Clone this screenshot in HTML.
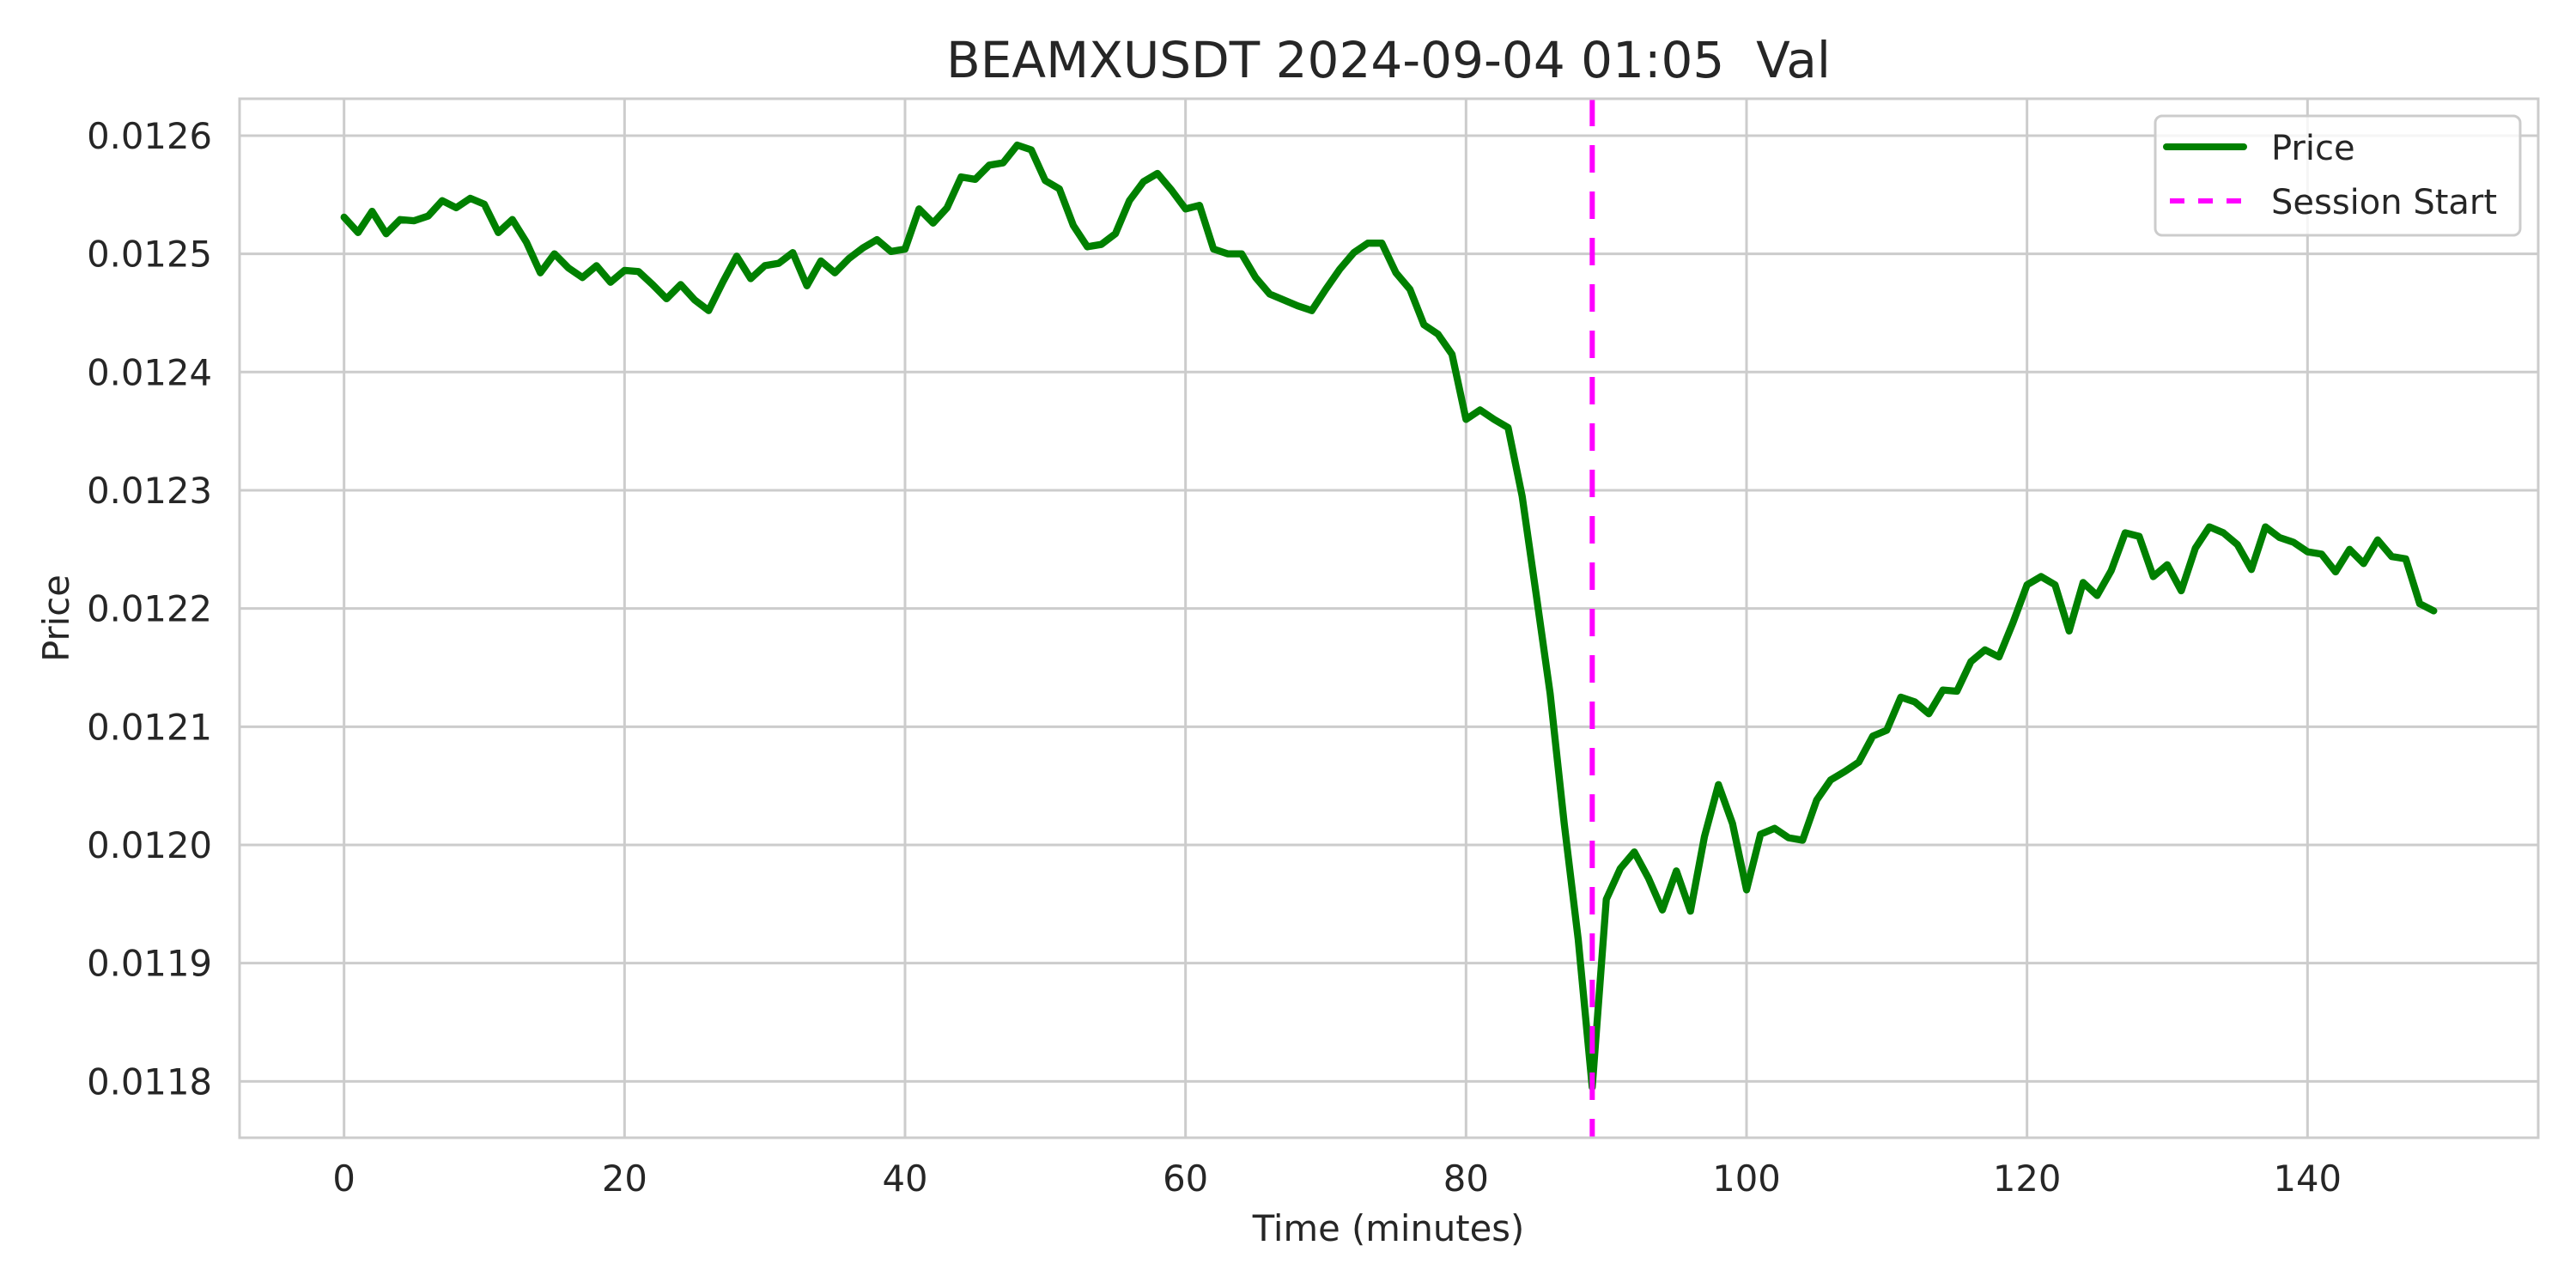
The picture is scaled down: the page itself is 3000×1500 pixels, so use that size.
<!DOCTYPE html>
<html><head><meta charset="utf-8"><style>
html,body{margin:0;padding:0;background:#fff;}
svg{display:block;font-family:"DejaVu Sans","Liberation Sans",sans-serif;}
</style></head><body>
<svg id="chart" width="3000" height="1500" viewBox="0 0 3000 1500" xmlns="http://www.w3.org/2000/svg">
<rect x="0" y="0" width="3000" height="1500" fill="#ffffff"/>
<g id="grid"></g>
<g id="series"></g>
<rect x="279" y="115" width="2677" height="1210" fill="none" stroke="#cccccc" stroke-width="3"/>
<g id="ticks"></g>
<text x="1617" y="90" text-anchor="middle" font-size="58" fill="#262626" style="white-space:pre" xml:space="preserve">BEAMXUSDT 2024-09-04 01:05  Val</text>
<text x="1617" y="1445" text-anchor="middle" font-size="41.7" fill="#262626">Time (minutes)</text>
<text transform="translate(80,720) rotate(-90)" text-anchor="middle" font-size="41.7" fill="#262626">Price</text>
<g>
<rect x="2510" y="135" width="425" height="139" rx="8" fill="#ffffff" fill-opacity="0.8" stroke="#cccccc" stroke-width="3"/>
<line x1="2523" y1="171" x2="2613" y2="171" stroke="#008000" stroke-width="8" stroke-linecap="round"/>
<text x="2645" y="186" font-size="40" fill="#262626">Price</text>
<line x1="2527" y1="234" x2="2611" y2="234" stroke="#ff00ff" stroke-width="6" stroke-dasharray="17,16"/>
<text x="2645" y="249" font-size="40" fill="#262626">Session Start</text>
</g>
</svg>
<script>
const prices = [12531,12518,12536,12517,12529,12528,12532,12545,12539,12547,12542,12518,12529,12510,12484,12500,12488,12480,12490,12476,12486,12485,12474,12462,12474,12461,12452,12476,12498,12479,12490,12492,12501,12473,12494,12484,12496,12505,12512,12502,12504,12538,
12526,12539,12565,12563,12575,12577,12592,12588,12562,12555,12524,12506,12508,12517,12545,12561,12568,12554,12538,12541,12504,12500,12500,12480,12466,12461,12456,12452,12470,12487,12501,12509,12509,12484,12470,12440,12432,12415,12360,12368,12360,12353,
12295,12212,12128,12018,11920,11795,11954,11980,11994,11972,11945,11978,11944,12007,12051,12018,11962,12009,12014,12006,12004,
12038,12055,12062,12070,12092,12097,12125,12121,12111,12131,12130,12155,12165,12159,12188,12220,12227,12220,12181,12222,12211,12232,12264,12261,12227,12237,12215,12251,12269,12264,12254,12233,12269,12260,12256,12248,12246,12231,12250,12238,12258,12244,12242,12204,12198].map(v => v / 1e6);
const sessionStart = [89];
const xTicks = [0, 20, 40, 60, 80, 100, 120, 140];
const yTicks = [0.0118, 0.0119, 0.0120, 0.0121, 0.0122, 0.0123, 0.0124, 0.0125, 0.0126];
const yTickLabels = ["0.0118","0.0119","0.0120","0.0121","0.0122","0.0123","0.0124","0.0125","0.0126"];

const L = 279, R = 2956, T = 115, B = 1325;
const xMin = -7.45, xMax = 156.45, yMin = 0.0117523, yMax = 0.0126312;
const sx = v => L + (v - xMin) / (xMax - xMin) * (R - L);
const sy = v => B - (v - yMin) / (yMax - yMin) * (B - T);
const NS = "http://www.w3.org/2000/svg";
const grid = document.getElementById('grid');
const ticks = document.getElementById('ticks');
const series = document.getElementById('series');

xTicks.forEach(t => {
  const ln = document.createElementNS(NS, 'line');
  ln.setAttribute('x1', sx(t)); ln.setAttribute('x2', sx(t));
  ln.setAttribute('y1', T); ln.setAttribute('y2', B);
  ln.setAttribute('stroke', '#cccccc'); ln.setAttribute('stroke-width', '3');
  
  
  grid.appendChild(ln);
  const tx = document.createElementNS(NS, 'text');
  tx.setAttribute('x', sx(t)); tx.setAttribute('y', 1387);
  tx.setAttribute('text-anchor', 'middle'); tx.setAttribute('font-size', '41.7');
  tx.setAttribute('fill', '#262626');
  tx.textContent = String(t);
  
  
  ticks.appendChild(tx);
});
yTicks.forEach((t, i) => {
  const ln = document.createElementNS(NS, 'line');
  ln.setAttribute('x1', L); ln.setAttribute('x2', R);
  ln.setAttribute('y1', sy(t)); ln.setAttribute('y2', sy(t));
  ln.setAttribute('stroke', '#cccccc'); ln.setAttribute('stroke-width', '3');
  
  
  grid.appendChild(ln);
  const tx = document.createElementNS(NS, 'text');
  tx.setAttribute('x', 247); tx.setAttribute('y', sy(t) + 15);
  tx.setAttribute('text-anchor', 'end'); tx.setAttribute('font-size', '41.7');
  tx.setAttribute('fill', '#262626');
  tx.textContent = yTickLabels[i];
  
  
  ticks.appendChild(tx);
});

const pl = document.createElementNS(NS, 'polyline');
pl.setAttribute('points', prices.map((p, i) => sx(i).toFixed(1) + ',' + sy(p).toFixed(1)).join(' '));
pl.setAttribute('fill', 'none'); pl.setAttribute('stroke', '#008000');
pl.setAttribute('stroke-width', '8.3'); pl.setAttribute('stroke-linejoin', 'round'); pl.setAttribute('stroke-linecap', 'round');


series.appendChild(pl);

sessionStart.forEach(s => {
  const ln = document.createElementNS(NS, 'line');
  ln.setAttribute('x1', sx(s)); ln.setAttribute('x2', sx(s));
  ln.setAttribute('y1', T); ln.setAttribute('y2', B);
  ln.setAttribute('stroke', '#ff00ff'); ln.setAttribute('stroke-width', '6');
  ln.setAttribute('stroke-dasharray', '32,22');
  
  
  series.appendChild(ln);
});
</script>
</body></html>
